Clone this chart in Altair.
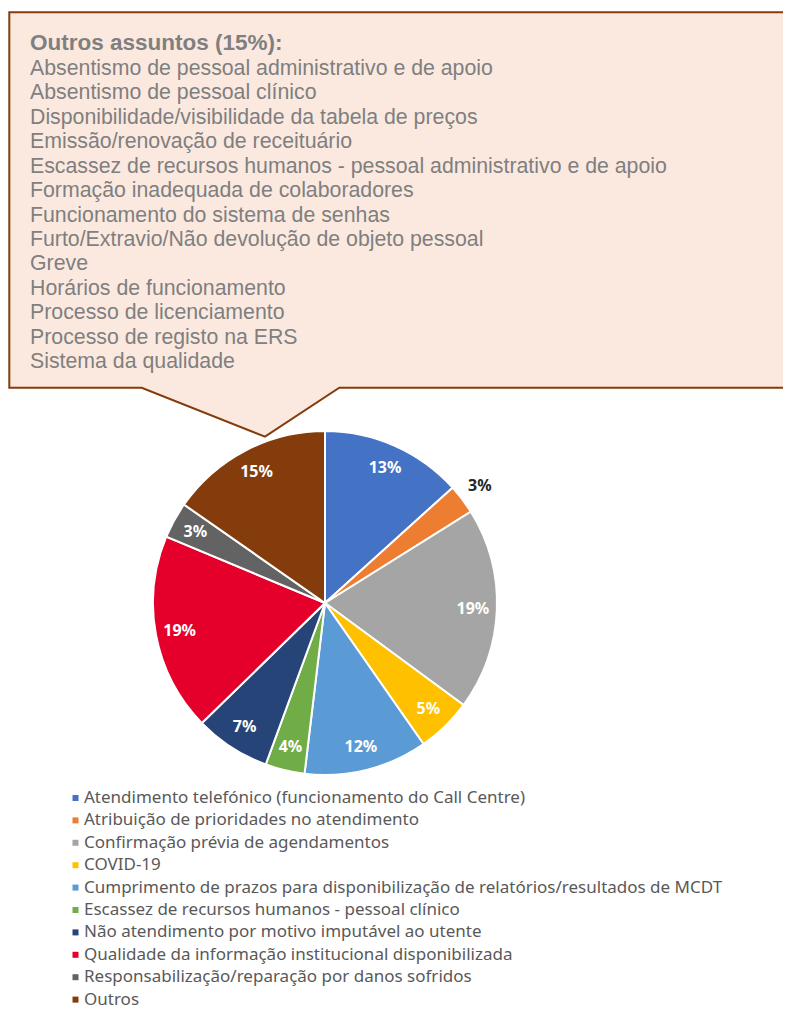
import altair as alt
import pandas as pd

# ---------------- data ----------------
categories = [
    "Atendimento telefónico (funcionamento do Call Centre)",
    "Atribuição de prioridades no atendimento",
    "Confirmação prévia de agendamentos",
    "COVID-19",
    "Cumprimento de prazos para disponibilização de relatórios/resultados de MCDT",
    "Escassez de recursos humanos - pessoal clínico",
    "Não atendimento por motivo imputável ao utente",
    "Qualidade da informação institucional disponibilizada",
    "Responsabilização/reparação por danos sofridos",
    "Outros",
]
shares = [13.3, 2.8, 19.0, 5.2, 11.6, 3.7, 7.1, 18.6, 3.4, 15.3]
colors = ["#4472C4", "#ED7D31", "#A5A5A5", "#FFC000", "#5B9BD5",
          "#70AD47", "#264478", "#E4002B", "#636363", "#843C0C"]
outside_label = "Atribuição de prioridades no atendimento"

callout_title = "Outros assuntos (15%):"
other_items = [
    "Absentismo de pessoal administrativo e de apoio",
    "Absentismo de pessoal clínico",
    "Disponibilidade/visibilidade da tabela de preços",
    "Emissão/renovação de receituário",
    "Escassez de recursos humanos - pessoal administrativo e de apoio",
    "Formação inadequada de colaboradores",
    "Funcionamento do sistema de senhas",
    "Furto/Extravio/Não devolução de objeto pessoal",
    "Greve",
    "Horários de funcionamento",
    "Processo de licenciamento",
    "Processo de registo na ERS",
    "Sistema da qualidade",
]

# ---------------- layout ----------------
W, H = 775, 1002
CX, CY, R = 317, 595, 172

# callout outline (box + tail) as one custom symbol path
PX, PY, S = 400.0, 200.0, 400.0
outline = [(1.3, 4.3), (800, 4.3), (800, 379.7), (331.3, 379.7),
           (257, 428.7), (133.7, 379.7), (1.3, 379.7)]
path = "M " + " L ".join(f"{(x - PX) / S:.5f} {(y - PY) / S:.5f}" for x, y in outline) + " Z"

one = pd.DataFrame({"k": [0]})

callout = alt.Chart(one).mark_point(
    shape=path, size=(2 * S) ** 2, filled=True, fill="#FBE9DF",
    stroke="#843C0C", strokeWidth=2, opacity=1
).encode(x=alt.value(PX), y=alt.value(PY))

title = alt.Chart(one).mark_text(
    text=callout_title, align="left", baseline="alphabetic",
    font="Liberation Sans", fontSize=22.5, fontWeight="bold", color="#7F7F7F"
).encode(x=alt.value(22), y=alt.value(42))

body = alt.Chart(one).mark_text(
    text=other_items, align="left", baseline="alphabetic", lineHeight=24.42,
    font="Liberation Sans", fontSize=21.3, color="#7F7F7F"
).encode(x=alt.value(22), y=alt.value(67))

df = pd.DataFrame({"category": categories, "share": shares, "idx": list(range(len(categories)))})

base = alt.Chart(df).transform_calculate(
    label="round(datum.share) + '%'"
).encode(
    theta=alt.Theta("share:Q", stack=True),
    order=alt.Order("idx:Q"),
)

pie = base.mark_arc(radius=R, stroke="white", strokeWidth=2).encode(
    x=alt.value(CX), y=alt.value(CY),
    color=alt.Color(
        "category:N",
        sort=categories,
        scale=alt.Scale(domain=categories, range=colors),
        legend=alt.Legend(
            orient="none", legendX=59, legendY=781.5, title=None,
            symbolType="square", symbolSize=36, symbolStrokeWidth=0, symbolOpacity=1,
            labelFont="Noto Sans", labelFontSize=17, labelColor="#595959",
            labelLimit=0, labelOffset=0, rowPadding=4.4, padding=0,
        ),
    ),
)

labels_in = base.mark_text(
    radius=148, font="Noto Sans", fontWeight="bold", fontSize=16, color="white"
).encode(
    x=alt.value(CX), y=alt.value(CY), text="label:N",
    opacity=alt.condition(alt.datum.category == outside_label, alt.value(0), alt.value(1)),
)

labels_out = base.mark_text(
    radius=194, font="Noto Sans", fontWeight="bold", fontSize=16, color="#262626"
).encode(
    x=alt.value(CX), y=alt.value(CY), text="label:N",
    opacity=alt.condition(alt.datum.category == outside_label, alt.value(1), alt.value(0)),
)

chart = alt.layer(callout, title, body, pie, labels_in, labels_out).properties(
    width=W, height=H, padding=0,
    autosize=alt.AutoSizeParams(type="none"),
).configure_view(stroke=None)

chart.save("out.html", embed_options={"renderer": "svg", "actions": False})
